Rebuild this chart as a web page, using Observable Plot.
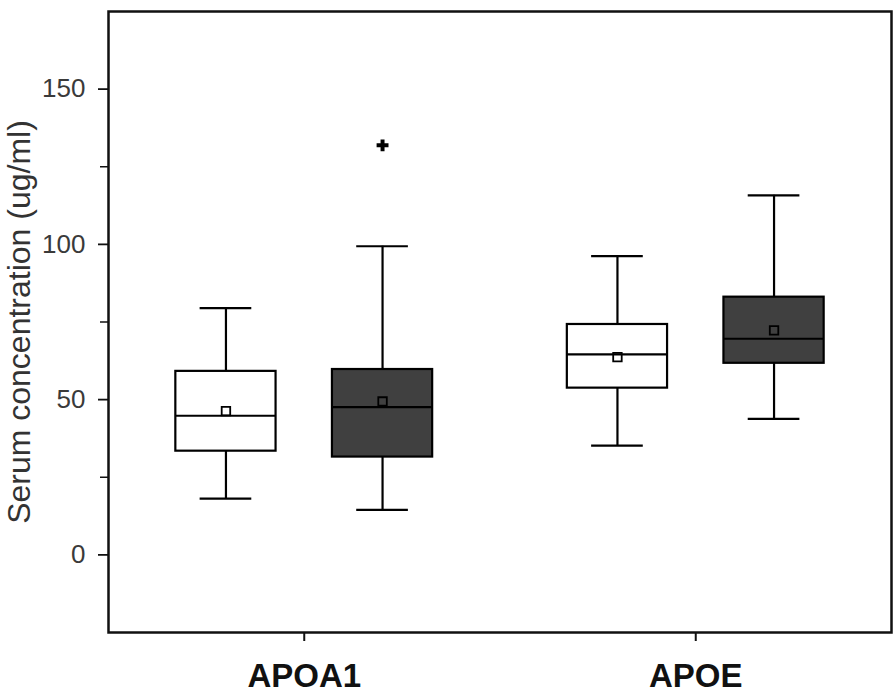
<!DOCTYPE html>
<html><head><meta charset="utf-8">
<script src="https://cdn.jsdelivr.net/npm/d3@7"></script>
<script src="https://cdn.jsdelivr.net/npm/@observablehq/plot@0.6"></script>
<style>body{margin:0;background:#fff}</style>
</head><body><div id="chart"></div>
<script>
// Categories
const genes = ["APOA1", "APOE"];
const groups = ["open", "filled"];
// One entry per box, order: APOA1 open, APOA1 filled, APOE open, APOE filled
const boxGene = ["APOA1", "APOA1", "APOE", "APOE"];
const boxGroup = ["open", "filled", "open", "filled"];
const whiskerLow = [18.1, 14.5, 35.2, 43.8];
const q1 = [33.4, 31.5, 53.7, 61.7];
const median = [44.8, 47.6, 64.6, 69.6];
const q3 = [59.1, 59.7, 74.2, 83.0];
const whiskerHigh = [79.5, 99.4, 96.2, 115.8];
const mean = [46.3, 49.4, 63.7, 72.3];
// Outliers
const outlierGene = ["APOA1"];
const outlierGroup = ["filled"];
const outlierValue = [131.9];
// Axis ticks
const yMajorTicks = [0, 50, 100, 150];
const yMinorTicks = [25, 75, 125];
const yLabel = "Serum concentration (ug/ml)";

const groupOffset = {open: -0.2, filled: 0.2};
const halfBox = 0.128, halfCap = 0.066;
const xc = (g, grp) => genes.indexOf(g) + groupOffset[grp];

const rows = boxGene.map((g, i) => ({
  gene: g, group: boxGroup[i], xc: xc(g, boxGroup[i]),
  lo: whiskerLow[i], q1: q1[i], med: median[i], q3: q3[i], hi: whiskerHigh[i], mean: mean[i]
}));
const outliers = outlierGene.map((g, i) => ({x: xc(g, outlierGroup[i]), y: outlierValue[i]}));

const dark = "#404040";
const lw = 2.2;

const chart = Plot.plot({
  width: 896, height: 693,
  marginLeft: 108, marginRight: 5, marginTop: 11, marginBottom: 61,
  style: {fontFamily: "'Liberation Sans', Arial, Helvetica, sans-serif", background: "#fff"},
  x: {type: "linear", domain: [-0.5, 1.5]},
  y: {domain: [-25, 175]},
  marks: [
    Plot.ruleX(rows, {x: "xc", y1: "q3", y2: "hi", stroke: "#000", strokeWidth: lw}),
    Plot.ruleX(rows, {x: "xc", y1: "lo", y2: "q1", stroke: "#000", strokeWidth: lw}),
    Plot.ruleY(rows, {y: "hi", x1: d => d.xc - halfCap, x2: d => d.xc + halfCap, stroke: "#000", strokeWidth: lw}),
    Plot.ruleY(rows, {y: "lo", x1: d => d.xc - halfCap, x2: d => d.xc + halfCap, stroke: "#000", strokeWidth: lw}),
    Plot.rect(rows.filter(d => d.group === "open"), {x1: d => d.xc - halfBox, x2: d => d.xc + halfBox, y1: "q1", y2: "q3", fill: "#fff", stroke: "#000", strokeWidth: lw}),
    Plot.rect(rows.filter(d => d.group === "filled"), {x1: d => d.xc - halfBox, x2: d => d.xc + halfBox, y1: "q1", y2: "q3", fill: dark, stroke: "#000", strokeWidth: lw}),
    Plot.ruleY(rows, {y: "med", x1: d => d.xc - halfBox, x2: d => d.xc + halfBox, stroke: "#000", strokeWidth: lw}),
    Plot.dot(rows, {x: "xc", y: "mean", symbol: "square", r: 4.8, stroke: "#000", fill: "none", strokeWidth: 1.8}),
    Plot.dot(outliers, {x: "x", y: "y", symbol: "cross", r: 5, fill: "#000", stroke: "none"}),
    Plot.axisY({ticks: yMajorTicks, tickSize: 10, tickPadding: 13, fontSize: 26, fill: "#3a3a3a", stroke: "#111", strokeWidth: 1.8, label: null}),
    Plot.axisY({ticks: yMinorTicks, tickSize: 8, tickFormat: () => "", stroke: "#111", strokeWidth: 1.5, label: null}),
    Plot.axisX({ticks: [0, 1], tickFormat: i => genes[i], tickSize: 9, tickPadding: 22, fontSize: 33, fontWeight: "bold", fill: "#111", stroke: "#111", strokeWidth: 2, label: null}),
    Plot.text([yLabel], {text: d => d, frameAnchor: "left", rotate: -90, dx: -89, fontSize: 32, fill: "#333", textAnchor: "middle", lineAnchor: "middle"}),
    Plot.frame({stroke: "#111", strokeWidth: 2.5})
  ]
});
document.getElementById("chart").appendChild(chart);
</script>
</body></html>
